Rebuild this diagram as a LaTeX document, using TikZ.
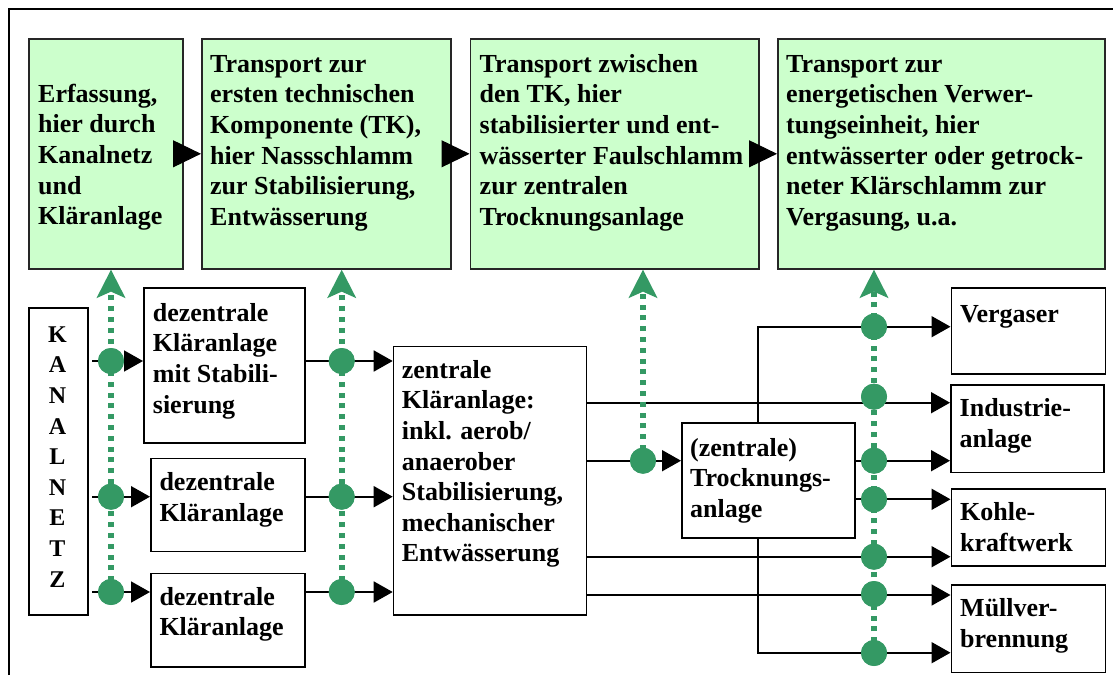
\documentclass[tikz,border=0pt]{standalone}
\usepackage{fontspec}
\setmainfont{Liberation Serif}
\usetikzlibrary{arrows.meta}
\definecolor{boxgreen}{RGB}{204,255,204}
\definecolor{dotgreen}{RGB}{52,153,100}
\tikzset{
  greenbox/.style={draw=black!85, line width=1.6pt, fill=boxgreen, inner sep=0pt, anchor=north west},
  whitebox/.style={draw=black, line width=1.6pt, fill=white, inner sep=0pt, anchor=north west},
  boxtext/.style={anchor=north west, inner sep=0pt, align=left, font=\fontsize{26}{30.6}\selectfont\bfseries},
  flow/.style={line width=1.8pt, -{Triangle[length=19pt,width=21pt]}},
  stagearrow/.style={line width=1pt, -{Triangle[length=28pt,width=27pt]}},
  gdot/.style={circle, fill=dotgreen, inner sep=0pt, minimum size=26pt},
  gpath/.style={draw=dotgreen, line width=6pt, dash pattern=on 5pt off 5.8pt,
                -{Stealth[length=28pt,width=28pt,inset=6pt]}},
}
\begin{document}
\begin{tikzpicture}[x=1pt,y=-1pt]
\useasboundingbox (0,0) rectangle (1113,675);
% outer frame
\draw[line width=2pt] (9,675) -- (9,9) -- (1113,9);

% stages (top row)
\node[greenbox, minimum width=154pt, minimum height=230pt] (b1) at (28,38) {};
\node[greenbox, minimum width=249pt, minimum height=230pt] (b2) at (201,38) {};
\node[greenbox, minimum width=288.5pt, minimum height=230pt] (b3) at (469.5,38) {};
\node[greenbox, minimum width=327pt, minimum height=230pt] (b4) at (777,38) {};
\node[boxtext] (b1t) at (38,80.6) {\strut Erfassung,\\hier durch\\Kanalnetz\\und\\Kläranlage};
\node[boxtext] (b2t) at (210,50.6) {\strut Transport zur\\ersten technischen\\Komponente (TK),\\hier Nassschlamm\\zur Stabilisierung,\\Entwässerung};
\node[boxtext] (b3t) at (479.5,50.6) {\strut Transport zwischen\\den TK, hier\\stabilisierter und ent-\\wässerter Faulschlamm\\zur zentralen\\Trocknungsanlage};
\node[boxtext] (b4t) at (786,50.6) {\strut Transport zur\\energetischen Verwer-\\tungseinheit, hier\\entwässerter oder getrock-\\neter Klärschlamm zur\\Vergasung, u.a.};
\draw[stagearrow] (b1.east) -- (b2.west);
\draw[stagearrow] (b2.east) -- (b3.west);
\draw[stagearrow] (b3.east) -- (b4.west);

% plants (lower part)
\node[whitebox, minimum width=59pt, minimum height=307pt] (kan) at (28,307) {};
\node[anchor=north, inner sep=0pt, align=center, font=\fontsize{24}{30.6}\selectfont\bfseries] (kant) at (57.5,320.6) {\strut K\\A\\N\\A\\L\\N\\E\\T\\Z};
\node[whitebox, minimum width=161pt, minimum height=155pt] (dz1) at (143,287) {};
\node[whitebox, minimum width=154pt, minimum height=93pt] (dz2) at (150,457.7) {};
\node[whitebox, minimum width=154pt, minimum height=93.3pt] (dz3) at (150,572.7) {};
\node[whitebox, minimum width=193pt, minimum height=268.6pt] (zen) at (392.7,345.7) {};
\node[whitebox, minimum width=173.3pt, minimum height=115pt] (tro) at (681,422.3) {};
\node[whitebox, minimum width=154pt, minimum height=86pt] (verg) at (950.5,287.3) {};
\node[whitebox, minimum width=153pt, minimum height=87.7pt] (ind) at (950,384) {};
\node[whitebox, minimum width=154pt, minimum height=76.7pt] (kohle) at (950.5,488.3) {};
\node[whitebox, minimum width=154pt, minimum height=87.7pt] (muell) at (950.5,584) {};

\node[boxtext] (dz1t) at (152.7,299.6) {\strut dezentrale\\Kläranlage\\mit Stabili-\\sierung};
\node[boxtext] (dz2t) at (159.3,469.3) {\strut dezentrale\\Kläranlage};
\node[boxtext] (dz3t) at (159.3,583.6) {\strut dezentrale\\Kläranlage};
\node[boxtext] (zent) at (401.7,356.6) {\strut zentrale\\Kläranlage:\\inkl. aerob/\\anaerober\\Stabilisierung,\\mechanischer\\Entwässerung};
\node[boxtext] (trot) at (690,434.6) {\strut (zentrale)\\Trocknungs-\\anlage};
\node[boxtext] (vergt) at (960,300.6) {\strut Vergaser};
\node[boxtext] (indt) at (959.5,395.3) {\strut Industrie-\\anlage};
\node[boxtext] (kohlet) at (960,499.3) {\strut Kohle-\\kraftwerk};
\node[boxtext] (muellt) at (960,595.3) {\strut Müllver-\\brennung};

% rows and columns of the material flow
\coordinate (kx) at (92,0);
\coordinate (xt) at (758,0);
\coordinate (yA) at (0,361);
\coordinate (yB) at (0,496.7);
\coordinate (yC) at (0,592);
\coordinate (yV) at (0,326.7);
\coordinate (yI) at (0,402.7);
\coordinate (yT) at (0,460.7);
\coordinate (yK) at (0,499.3);
\coordinate (yKz) at (0,556.7);
\coordinate (yMz) at (0,595);
\coordinate (yM) at (0,652.7);

% material flow
\draw[flow] (kx |- yA) -- (dz1.west |- yA);
\draw[flow] (kx |- yB) -- (dz2.west |- yB);
\draw[flow] (kx |- yC) -- (dz3.west |- yC);
\draw[flow] (dz1.east |- yA) -- (zen.west |- yA);
\draw[flow] (dz2.east |- yB) -- (zen.west |- yB);
\draw[flow] (dz3.east |- yC) -- (zen.west |- yC);
\draw[flow] (zen.east |- yI) -- (ind.west |- yI);
\draw[flow] (zen.east |- yT) -- (tro.west |- yT);
\draw[flow] (zen.east |- yKz) -- (kohle.west |- yKz);
\draw[flow] (zen.east |- yMz) -- (muell.west |- yMz);
\draw[flow] (tro.east |- yT) -- (ind.west |- yT);
\draw[flow] (tro.east |- yK) -- (kohle.west |- yK);
\draw[flow] (tro.north -| xt) |- (verg.west |- yV);
\draw[flow] (tro.south -| xt) |- (muell.west |- yM);

% transport points
\node[gdot] (g1a) at (111,361) {};
\node[gdot] (g1b) at (111,496.7) {};
\node[gdot] (g1c) at (111,592) {};
\node[gdot] (g2a) at (341.7,361) {};
\node[gdot] (g2b) at (341.7,496.7) {};
\node[gdot] (g2c) at (341.7,592) {};
\node[gdot] (g3) at (643,460.7) {};
\node[gdot] (g4a) at (874,326.7) {};
\node[gdot] (g4b) at (874,396.7) {};
\node[gdot] (g4c) at (874,460.7) {};
\node[gdot] (g4d) at (874,499.3) {};
\node[gdot] (g4e) at (874,556.7) {};
\node[gdot] (g4f) at (874,594) {};
\node[gdot] (g4g) at (874,653) {};

% transport links up to the stages
\draw[gpath] (g1c.center) -- (g1a |- b1.south);
\draw[gpath] (g2c.center) -- (g2a |- b2.south);
\draw[gpath] (g3.center) -- (g3 |- b3.south);
\draw[gpath] (g4g.center) -- (g4a |- b4.south);

% points drawn again above the dotted links
\foreach \p in {g1a,g1b,g1c,g2a,g2b,g2c,g3,g4a,g4b,g4c,g4d,g4e,g4f,g4g}
  \fill[dotgreen] (\p.center) circle (13pt);
\end{tikzpicture}
\end{document}
